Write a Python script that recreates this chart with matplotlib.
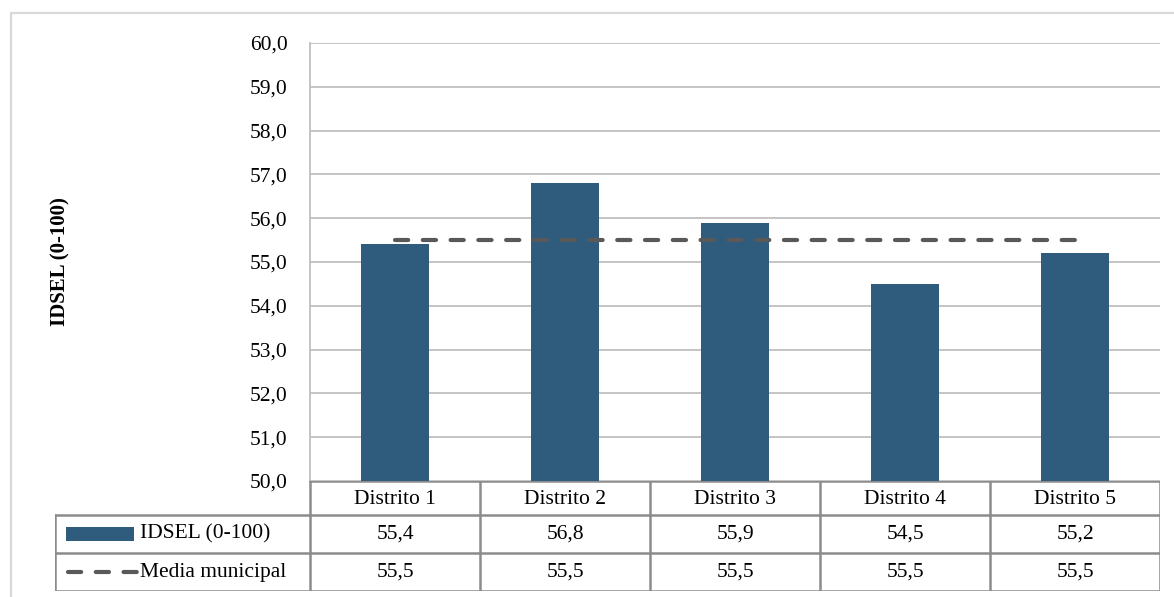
import matplotlib.pyplot as plt
from matplotlib.patches import Rectangle
from matplotlib.lines import Line2D

# IDSEL por distrito frente a la media municipal
distritos = ["Distrito 1", "Distrito 2", "Distrito 3", "Distrito 4", "Distrito 5"]
idsel = [55.4, 56.8, 55.9, 54.5, 55.2]
media_municipal = [55.5, 55.5, 55.5, 55.5, 55.5]
serie_idsel = "IDSEL (0-100)"
serie_media = "Media municipal"
y_ticks = [50, 51, 52, 53, 54, 55, 56, 57, 58, 59, 60]

BAR_COLOR = "#2F5B7C"
LINE_COLOR = "#595959"
GRID_COLOR = "#BFBFBF"
TABLE_COLOR = "#8C8C8C"
FONT = "Liberation Serif"
FS = 15.5

plt.rcParams["font.family"] = FONT
plt.rcParams["lines.scale_dashes"] = False

W, H = 1174, 597
fig = plt.figure(figsize=(W / 100, H / 100), dpi=100)


def fx(px):
    return px / W


def fy(py):
    return 1 - py / H


def fmt(v):
    return f"{v:.1f}".replace(".", ",")


# outer chart frame (only the top and left edges fall inside the image)
fig.patches.append(Rectangle((fx(11), fy(640)), fx(1200), fy(13) - fy(640),
                             transform=fig.transFigure, fill=False,
                             edgecolor="#D9D9D9", linewidth=1.6))

# plot area
left, right, top, bottom = 310, 1160, 43, 481
ax = fig.add_axes([fx(left), fy(bottom), fx(right - left), fy(top) - fy(bottom)])
x = list(range(len(distritos)))
ax.bar(x, idsel, width=0.4, color=BAR_COLOR, zorder=3)
ax.plot(x, media_municipal, color=LINE_COLOR, linewidth=3,
        dashes=(9.5, 10.5), dash_capstyle="round", zorder=4)
ax.set_xlim(-0.5, len(distritos) - 0.5)
ax.set_ylim(50, 60)
ax.set_yticks(y_ticks)
ax.set_yticklabels([fmt(v) for v in y_ticks], fontsize=FS)
ax.set_xticks([])
ax.tick_params(axis="y", length=0, pad=16)
ax.grid(axis="y", color=GRID_COLOR, linewidth=1.3, zorder=0)
for side in ["top", "right", "bottom"]:
    ax.spines[side].set_visible(False)
ax.spines["left"].set_color(GRID_COLOR)
ax.spines["left"].set_linewidth(1.3)

fig.text(fx(60), fy(262), "IDSEL (0-100)", rotation=90, fontsize=15,
         fontweight="bold", ha="center", va="center")

# data table under the plot: x in category units, label column 1.5 wide
tleft, tbottom = 55, 591
tax = fig.add_axes([fx(tleft), fy(tbottom), fx(right - tleft), fy(bottom) - fy(tbottom)])
tax.set_xlim(-2.0, len(distritos) - 0.5)
row_edges = [0, 38, 76, 110]  # px from table bottom
tax.set_ylim(0, row_edges[-1])
tax.axis("off")

lkw = dict(color=TABLE_COLOR, linewidth=1.8, solid_capstyle="projecting")
xr = len(distritos) - 0.5
# horizontal rules
tax.plot([-0.5, xr], [row_edges[3]] * 2, **lkw)
for yy in row_edges[:3]:
    tax.plot([-2.0, xr], [yy, yy], **lkw)
# vertical rules
tax.plot([-2.0, -2.0], [0, row_edges[2]], **lkw)
for i in range(len(distritos) + 1):
    tax.plot([i - 0.5] * 2, [0, row_edges[3]], **lkw)

ymid_head = (row_edges[2] + row_edges[3]) / 2 - 2
ymid_idsel = (row_edges[1] + row_edges[2]) / 2
ymid_media = (row_edges[0] + row_edges[1]) / 2
for i, d in enumerate(distritos):
    tax.text(i, ymid_head, d, ha="center", va="center", fontsize=FS)
    tax.text(i, ymid_idsel, fmt(idsel[i]), ha="center", va="center", fontsize=FS)
    tax.text(i, ymid_media, fmt(media_municipal[i]), ha="center", va="center", fontsize=FS)

# legend keys inside the label column
key_x0 = -2.0 + 11 / 170
key_x1 = -2.0 + 79 / 170
tax.add_patch(Rectangle((key_x0, ymid_idsel - 7), key_x1 - key_x0, 14,
                        color=BAR_COLOR, linewidth=0))
tax.add_line(Line2D([key_x0 + 0.01, key_x1 + 0.02], [ymid_media, ymid_media],
                    color=LINE_COLOR, linewidth=3, dashes=(9.5, 10.5),
                    dash_capstyle="round"))
tax.text(-2.0 + 85 / 170, ymid_idsel, serie_idsel, ha="left", va="center", fontsize=FS)
tax.text(-2.0 + 85 / 170, ymid_media, serie_media, ha="left", va="center", fontsize=FS)

fig.savefig("out.png", dpi=100, facecolor="white")
